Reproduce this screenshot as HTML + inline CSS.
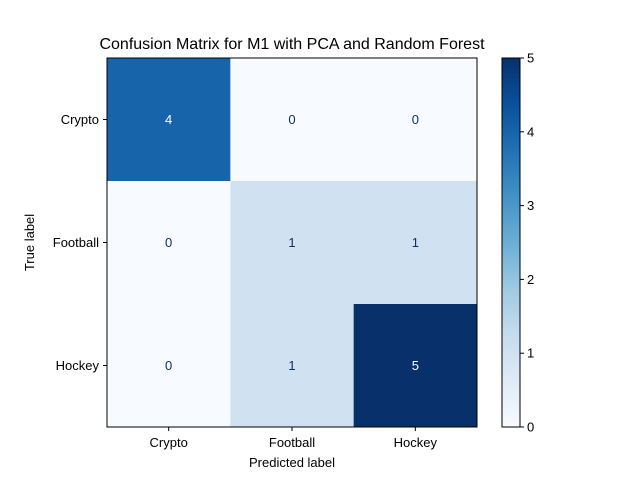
<!DOCTYPE html>
<html><head><meta charset="utf-8"><style>body{margin:0;background:#fff}svg{display:block;font-family:"Liberation Sans","DejaVu Sans",sans-serif}</style></head>
<body>
<svg id="c" width="640" height="480">
<defs><linearGradient id="g" x1="0" y1="1" x2="0" y2="0">
<stop offset="0" stop-color="#f7fbff"/><stop offset="0.125" stop-color="#deebf7"/><stop offset="0.25" stop-color="#c6dbef"/><stop offset="0.375" stop-color="#9ecae1"/><stop offset="0.5" stop-color="#6baed6"/><stop offset="0.625" stop-color="#4292c6"/><stop offset="0.75" stop-color="#2171b5"/><stop offset="0.875" stop-color="#08519c"/><stop offset="1" stop-color="#08306b"/></linearGradient></defs>
<text x="292" y="49" font-size="16" text-anchor="middle">Confusion Matrix for M1 with PCA and Random Forest</text>
</svg>
<script>
const labels=["Crypto","Football","Hockey"];
const matrix=[[4,0,0],[0,1,1],[0,1,5]];
const cbTicks=[0,1,2,3,4,5];
const svg=document.getElementById('c');const NS='http://www.w3.org/2000/svg';
const L=107,T=58,R=477,B=427,vmax=5;
const cw=(R-L)/labels.length,ch=(B-T)/labels.length;
const stops=[[247,251,255],[222,235,247],[198,219,239],[158,202,225],[107,174,214],[66,146,198],[33,113,181],[8,81,156],[8,48,107]];
function col(v){let t=v/vmax*8;let i=Math.min(7,Math.floor(t));let f=t-i;const a=stops[i],b=stops[i+1];return `rgb(${a.map((x,k)=>Math.round(x+(b[k]-x)*f)).join(',')})`;}
function el(n,a,p){const e=document.createElementNS(NS,n);for(const k in a)e.setAttribute(k,a[k]);(p||svg).appendChild(e);return e;}
matrix.forEach((row,i)=>row.forEach((v,j)=>{
const r=el('rect',{x:L+j*cw,y:T+i*ch,width:cw+0.5,height:ch+0.5,fill:col(v)});


const t=el('text',{x:L+(j+0.5)*cw,y:T+(i+0.5)*ch+4.5,'font-size':13,'text-anchor':'middle',fill:v>=vmax/2?'#fff':'#08306b'});t.textContent=v;


}));
const f=el('rect',{x:L,y:T,width:R-L,height:B-T,fill:'none',stroke:'#000','stroke-width':1});


labels.forEach((lb,k)=>{
const x=L+(k+0.5)*cw,y=T+(k+0.5)*ch;
el('line',{x1:x,x2:x,y1:B,y2:B+4,stroke:'#000'});
const tx=el('text',{x:x,y:B+20,'font-size':13,'text-anchor':'middle'});tx.textContent=lb;


el('line',{x1:L-4,x2:L,y1:y,y2:y,stroke:'#000'});
const ty=el('text',{x:L-8,y:y+4.5,'font-size':13,'text-anchor':'end'});ty.textContent=lb;


});
const xl=el('text',{x:(L+R)/2,y:467,'font-size':13,'text-anchor':'middle'});xl.textContent='Predicted label';


const yl=el('text',{x:0,y:0,'font-size':13,'text-anchor':'middle',transform:`translate(34,${(T+B)/2}) rotate(-90)`});yl.textContent='True label';


const CL=502,CR=520;
const cb=el('rect',{x:CL,y:T,width:CR-CL,height:B-T,fill:'url(#g)',stroke:'#000'});


cbTicks.forEach(v=>{const y=B-(v/vmax)*(B-T);
el('line',{x1:CR,x2:CR+4,y1:y,y2:y,stroke:'#000'});
const t=el('text',{x:CR+7,y:y+4.5,'font-size':13});t.textContent=v;

});
</script>
</body></html>
